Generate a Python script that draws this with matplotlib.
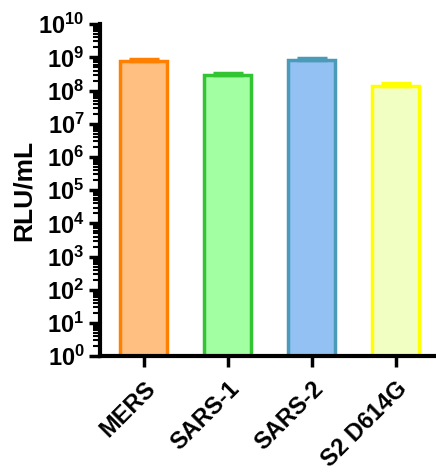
import matplotlib.pyplot as plt
import matplotlib.ticker as mticker
import numpy as np

plt.rcParams['font.family'] = ['Liberation Sans', 'DejaVu Sans']
plt.rcParams['mathtext.fontset'] = 'custom'
plt.rcParams['mathtext.rm'] = 'Liberation Sans:bold'
plt.rcParams['mathtext.bf'] = 'Liberation Sans:bold'

# data
labels = ['MERS', 'SARS-1', 'SARS-2', 'S2 D614G']
values = [7.7e8, 2.9e8, 8.3e8, 1.35e8]
errors = [1.2e8, 0.5e8, 1.3e8, 0.35e8]
edge_colors = ['#FF8000', '#33C433', '#4A9AB8', '#FFFF00']
fill_colors = ['#FFBF80', '#A2FFA2', '#93C1F4', '#F2FFC2']

fig = plt.figure(figsize=(4.36, 4.73), dpi=100)
ax = fig.add_axes([0.229, 0.247, 0.771, 0.702])

x = np.arange(len(labels))
ax.bar(x, values, width=0.56, color=fill_colors, edgecolor=edge_colors,
       linewidth=2.5, zorder=2)
for xi, v, e, c in zip(x, values, errors, edge_colors):
    ax.errorbar(xi, v, yerr=[[0], [e]], color=c, capsize=11, capthick=2.5,
                elinewidth=2, zorder=3)

ax.set_yscale('log')
ax.set_ylim(1, 1e10)
ax.set_xlim(-0.52, 3.48)

ax.yaxis.set_major_locator(mticker.LogLocator(base=10, numticks=20))
ax.yaxis.set_minor_locator(mticker.LogLocator(base=10, subs=np.arange(2, 10), numticks=20))
ax.yaxis.set_minor_formatter(mticker.NullFormatter())
ax.yaxis.set_major_formatter(mticker.FuncFormatter(
    lambda v, p: r'$\mathbf{10^{%d}}$' % round(np.log10(v))))

ax.set_xticks(x)
ax.set_xticklabels(labels, rotation=45, ha='right', rotation_mode='anchor',
                   fontsize=17, fontweight='bold')
ax.tick_params(axis='y', which='major', length=8, width=2.5, labelsize=17, pad=3)
ax.tick_params(axis='y', which='minor', length=5, width=1.5)
ax.tick_params(axis='x', length=8, width=2.5, pad=7)

for s in ['top', 'right']:
    ax.spines[s].set_visible(False)
ax.spines['left'].set_linewidth(3)
ax.spines['bottom'].set_linewidth(3)

ax.set_ylabel('RLU/mL', fontsize=19, fontweight='bold', labelpad=2)

fig.savefig('out.png', dpi=100)
